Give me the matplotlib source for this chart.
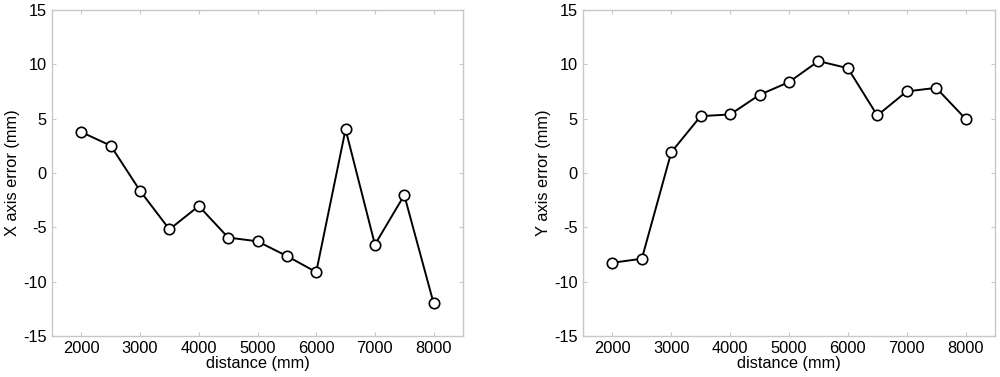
import matplotlib
matplotlib.use("Agg")
import matplotlib.pyplot as plt

plt.rcParams['font.family'] = ['Liberation Sans', 'DejaVu Sans']
plt.rcParams['axes.unicode_minus'] = False

distance = [2000, 2500, 3000, 3500, 4000, 4500, 5000, 5500, 6000, 6500, 7000, 7500, 8000]
x_error = [3.75, 2.5, -1.65, -5.2, -3.05, -5.95, -6.3, -7.65, -9.13, 4.0, -6.6, -2.05, -12.0]
y_error = [-8.27, -7.9, 1.9, 5.22, 5.37, 7.18, 8.35, 10.28, 9.63, 5.28, 7.49, 7.82, 4.97]

xticks = [2000, 3000, 4000, 5000, 6000, 7000, 8000]
yticks = [-15, -10, -5, 0, 5, 10, 15]

fig = plt.figure(figsize=(10, 3.77), dpi=100)
ax1 = fig.add_axes([0.052, 0.109, 0.411, 0.865])
ax2 = fig.add_axes([0.583, 0.109, 0.412, 0.865])

spine_color = '#c8c8c8'


def style_axis(ax, values, ylabel):
    ax.plot(distance, values, color='black', lw=1.4, marker='o',
            markersize=7.5, markerfacecolor='white', markeredgecolor='black',
            markeredgewidth=1.2, zorder=3)
    ax.set_xlim(1500, 8500)
    ax.set_ylim(-15, 15)
    ax.set_xticks(xticks)
    ax.set_yticks(yticks)
    ax.tick_params(direction='in', length=3, width=0.8, color=spine_color,
                   top=True, right=True, labelsize=11.8, pad=4)
    for s in ax.spines.values():
        s.set_color(spine_color)
        s.set_linewidth(1.0)
    ax.set_xlabel('distance (mm)', fontsize=11.8, labelpad=0)
    ax.set_ylabel(ylabel, fontsize=11.8, labelpad=2)


style_axis(ax1, x_error, 'X axis error (mm)')
style_axis(ax2, y_error, 'Y axis error (mm)')

fig.savefig('out.png', dpi=100)
